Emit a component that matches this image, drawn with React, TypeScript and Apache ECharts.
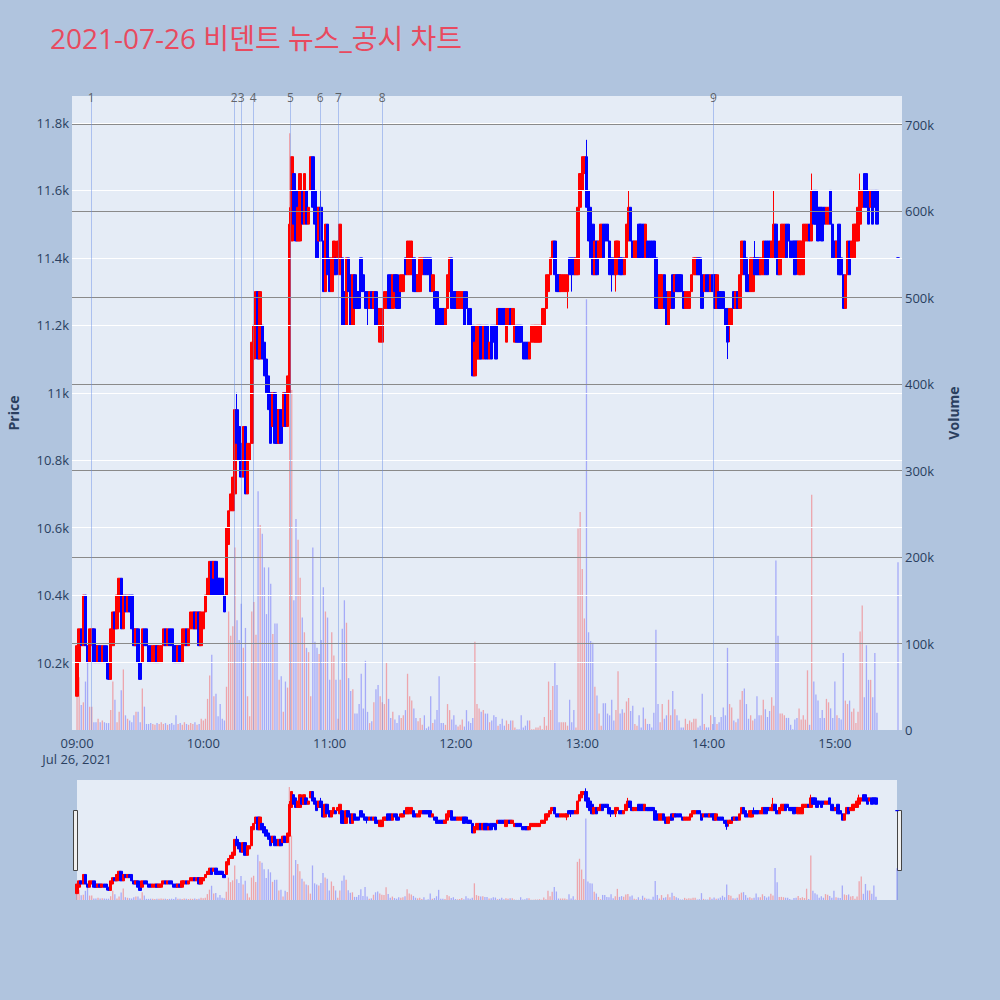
import React, { useEffect, useRef } from "react";
import * as echarts from "echarts";

const TITLE = "2021-07-26 비덴트 뉴스_공시 차트";
const DATE_LABEL = "Jul 26, 2021";

// one row per minute from 09:00: [open, close]
const candles: number[][] = [
  [10100, 10250], [10200, 10300], [10300, 10250], [10250, 10400], [10400, 10250], [10250, 10200], [10200, 10300], [10250, 10300], [10300, 10200], [10250, 10200],
  [10200, 10250], [10250, 10200], [10200, 10250], [10250, 10200], [10250, 10200], [10200, 10150], [10150, 10300], [10250, 10350], [10350, 10300], [10300, 10400],
  [10350, 10450], [10450, 10300], [10300, 10400], [10400, 10350], [10350, 10400], [10400, 10350], [10400, 10300], [10300, 10250], [10250, 10300], [10300, 10200],
  [10200, 10150], [10200, 10300], [10300, 10250], [10300, 10250], [10250, 10200], [10250, 10200], [10200, 10250], [10200, 10250], [10250, 10200], [10200, 10250],
  [10200, 10250], [10250, 10300], [10300, 10250], [10250, 10300], [10300, 10250], [10300, 10250], [10250, 10200], [10250, 10200], [10200, 10250], [10250, 10200],
  [10200, 10300], [10250, 10300], [10300, 10250], [10250, 10300], [10300, 10350], [10300, 10350], [10350, 10300], [10300, 10350], [10350, 10250], [10250, 10350],
  [10300, 10350], [10350, 10400], [10400, 10450], [10400, 10500], [10500, 10400], [10450, 10500], [10500, 10400], [10450, 10400], [10450, 10400], [10450, 10400],
  [10400, 10350], [10400, 10600], [10550, 10650], [10650, 10700], [10650, 10750], [10700, 10950], [10950, 10850], [10900, 10800], [10850, 10750], [10750, 10900],
  [10900, 10700], [10700, 10850], [10800, 10850], [10850, 11150], [11100, 11200], [11200, 11300], [11300, 11100], [11100, 11300], [11200, 11100], [11150, 11050],
  [11100, 11000], [11050, 10950], [11000, 10850], [10900, 11000], [11000, 10850], [10950, 10850], [10850, 10950], [10950, 10850], [10900, 11000], [11000, 10900],
  [10900, 11050], [11000, 11500], [11450, 11700], [11650, 11500], [11600, 11450], [11450, 11550], [11450, 11650], [11600, 11500], [11500, 11650], [11600, 11500],
  [11500, 11550], [11600, 11700], [11700, 11550], [11600, 11500], [11550, 11400], [11450, 11550], [11550, 11450], [11450, 11300], [11300, 11500], [11500, 11350],
  [11400, 11300], [11300, 11400], [11350, 11450], [11400, 11350], [11400, 11450], [11350, 11500], [11400, 11200], [11300, 11200], [11200, 11400], [11400, 11300],
  [11350, 11200], [11200, 11350], [11350, 11250], [11300, 11250], [11300, 11250], [11400, 11300], [11350, 11300], [11300, 11250], [11300, 11250], [11250, 11300],
  [11300, 11250], [11250, 11300], [11300, 11200], [11250, 11200], [11150, 11250], [11150, 11250], [11250, 11300], [11250, 11300], [11350, 11250], [11350, 11250],
  [11250, 11350], [11350, 11300], [11350, 11250], [11300, 11250], [11300, 11350], [11300, 11350], [11400, 11350], [11350, 11450], [11350, 11450], [11350, 11450],
  [11400, 11300], [11350, 11300], [11300, 11350], [11300, 11400], [11350, 11400], [11400, 11350], [11400, 11350], [11400, 11350], [11400, 11300], [11300, 11350],
  [11300, 11250], [11300, 11200], [11250, 11200], [11250, 11200], [11250, 11200], [11200, 11250], [11250, 11350], [11300, 11400], [11400, 11250], [11300, 11250],
  [11300, 11250], [11250, 11300], [11250, 11300], [11250, 11300], [11300, 11200], [11300, 11250], [11250, 11200], [11250, 11200], [11200, 11050], [11050, 11150],
  [11100, 11200], [11100, 11200], [11200, 11100], [11100, 11200], [11200, 11100], [11200, 11100], [11100, 11150], [11200, 11100], [11200, 11150], [11200, 11100],
  [11200, 11250], [11250, 11200], [11250, 11200], [11250, 11200], [11150, 11250], [11200, 11250], [11250, 11200], [11200, 11250], [11150, 11200], [11200, 11150],
  [11200, 11150], [11200, 11150], [11150, 11100], [11150, 11100], [11150, 11100], [11100, 11150], [11150, 11200], [11150, 11200], [11150, 11200], [11150, 11200],
  [11150, 11200], [11200, 11250], [11200, 11250], [11250, 11350], [11300, 11350], [11350, 11400], [11400, 11450], [11450, 11350], [11350, 11300], [11350, 11300],
  [11300, 11350], [11300, 11350], [11300, 11350], [11300, 11350], [11400, 11350], [11400, 11350], [11400, 11350], [11350, 11400], [11350, 11550], [11550, 11650],
  [11600, 11700], [11650, 11700], [11700, 11550], [11600, 11450], [11550, 11400], [11500, 11350], [11350, 11450], [11450, 11350], [11400, 11450], [11400, 11500],
  [11500, 11400], [11500, 11450], [11500, 11450], [11450, 11350], [11400, 11350], [11400, 11350], [11350, 11450], [11400, 11450], [11400, 11350], [11400, 11350],
  [11350, 11400], [11400, 11500], [11450, 11550], [11550, 11450], [11450, 11400], [11400, 11450], [11400, 11450], [11500, 11400], [11500, 11400], [11500, 11400],
  [11400, 11500], [11450, 11400], [11450, 11400], [11450, 11400], [11450, 11400], [11400, 11250], [11350, 11250], [11250, 11350], [11250, 11350], [11350, 11250],
  [11300, 11200], [11200, 11300], [11250, 11300], [11350, 11250], [11300, 11350], [11350, 11300], [11350, 11300], [11350, 11300], [11300, 11250], [11250, 11300],
  [11250, 11300], [11250, 11300], [11300, 11350], [11350, 11400], [11350, 11400], [11400, 11350], [11400, 11350], [11350, 11250], [11300, 11350], [11350, 11300],
  [11350, 11300], [11300, 11350], [11350, 11300], [11350, 11250], [11250, 11350], [11300, 11250], [11300, 11250], [11300, 11250], [11250, 11200], [11250, 11150],
  [11200, 11250], [11200, 11250], [11300, 11250], [11250, 11300], [11300, 11250], [11250, 11350], [11350, 11450], [11450, 11350], [11400, 11300], [11350, 11300],
  [11300, 11400], [11300, 11400], [11400, 11350], [11400, 11350], [11400, 11350], [11350, 11400], [11350, 11450], [11450, 11350], [11450, 11350], [11450, 11400],
  [11400, 11450], [11400, 11500], [11500, 11400], [11400, 11350], [11350, 11450], [11400, 11500], [11400, 11500], [11500, 11400], [11500, 11450], [11450, 11400],
  [11450, 11400], [11450, 11350], [11450, 11400], [11350, 11450], [11350, 11450], [11350, 11500], [11450, 11500], [11450, 11500], [11500, 11450], [11450, 11600],
  [11600, 11500], [11600, 11500], [11550, 11450], [11550, 11500], [11550, 11450], [11550, 11500], [11500, 11550], [11500, 11550], [11600, 11500], [11500, 11400],
  [11450, 11400], [11400, 11450], [11500, 11350], [11400, 11350], [11350, 11250], [11250, 11350], [11350, 11450], [11450, 11350], [11400, 11450], [11400, 11500],
  [11450, 11500], [11450, 11550], [11500, 11600], [11550, 11600], [11650, 11550], [11650, 11550], [11600, 11500], [11550, 11600], [11600, 11500], [11600, 11550],
  [11600, 11500],
];

// shadows that reach past the body: [minute, low, high]
const wicks: number[][] = [
  [14, 10150, 10250], [76, 10850, 11000], [101, 11000, 11550], [116, 11450, 11600], [138, 11200, 11300],
  [233, 11250, 11350], [235, 11300, 11400], [242, 11550, 11750], [254, 11300, 11400], [256, 11300, 11450],
  [262, 11450, 11600], [309, 11100, 11250], [310, 11150, 11250], [322, 11350, 11450], [331, 11400, 11600],
  [349, 11450, 11650], [372, 11500, 11650],
];

// closing auction print at 15:30
const closeAuction = { time: "15:30", open: 11400, close: 11400, volume: 194 };

// volume per minute, thousands of shares
const volumes: number[] = [
  77, 61, 29, 32, 56, 81, 27, 27, 9, 9,
  13, 9, 11, 9, 8, 8, 23, 56, 35, 9,
  21, 46, 70, 17, 13, 11, 9, 17, 21, 21,
  9, 48, 27, 7, 7, 8, 7, 6, 8, 7,
  9, 7, 8, 6, 7, 8, 6, 17, 7, 8,
  6, 9, 7, 6, 8, 7, 9, 6, 7, 13,
  11, 13, 36, 63, 87, 39, 42, 16, 30, 13,
  11, 50, 137, 109, 120, 211, 127, 104, 146, 95,
  118, 39, 16, 137, 148, 110, 276, 237, 227, 188,
  134, 188, 169, 111, 123, 123, 58, 62, 21, 56,
  49, 690, 393, 150, 244, 220, 176, 130, 113, 95,
  90, 39, 211, 102, 95, 88, 104, 165, 137, 130,
  58, 113, 86, 58, 13, 58, 117, 150, 124, 60,
  45, 47, 19, 19, 30, 65, 25, 80, 21, 8,
  10, 32, 47, 52, 39, 32, 30, 78, 36, 14,
  21, 12, 8, 17, 14, 17, 23, 65, 39, 34,
  25, 14, 10, 14, 6, 17, 2, 4, 39, 8,
  12, 23, 62, 8, 8, 6, 30, 23, 12, 17,
  6, 4, 6, 12, 4, 23, 10, 8, 14, 102,
  30, 25, 21, 23, 19, 19, 9, 11, 17, 15,
  5, 7, 13, 5, 11, 7, 11, 11, 3, 1,
  1, 17, 3, 5, 11, 11, 1, 1, 3, 3,
  5, 1, 15, 5, 56, 23, 51, 79, 52, 9,
  9, 9, 9, 5, 35, 9, 23, 3, 233, 252,
  186, 129, 498, 113, 103, 101, 50, 40, 19, 5,
  31, 31, 19, 17, 35, 11, 23, 68, 19, 24,
  20, 33, 37, 22, 28, 7, 5, 17, 3, 26,
  13, 7, 7, 3, 20, 116, 30, 9, 30, 13,
  17, 35, 17, 45, 24, 17, 11, 3, 3, 13,
  7, 11, 9, 13, 13, 3, 5, 42, 7, 3,
  3, 17, 7, 15, 7, 9, 15, 26, 17, 95,
  30, 26, 11, 9, 13, 35, 45, 48, 30, 13,
  17, 11, 13, 39, 17, 17, 35, 24, 15, 22,
  38, 28, 196, 109, 19, 19, 17, 14, 14, 6,
  1, 12, 14, 25, 12, 17, 12, 69, 6, 272,
  56, 41, 34, 14, 23, 14, 36, 32, 25, 14,
  56, 17, 14, 12, 89, 34, 30, 34, 21, 25,
  8, 21, 114, 144, 38, 98, 58, 58, 38, 89,
  20,
];

// news / disclosure times
const newsMarks: [string, string][] = [
  ["1", "09:06:40"], ["2", "10:14:40"], ["3", "10:18:00"], ["4", "10:23:40"], ["5", "10:41:20"],
  ["6", "10:55:30"], ["7", "11:04:10"], ["8", "11:25:00"], ["9", "14:02:20"],
];

const hourTicks = ["09:00", "10:00", "11:00", "12:00", "13:00", "14:00", "15:00"];
const priceTicks = [10200, 10400, 10600, 10800, 11000, 11200, 11400, 11600, 11800];
const volumeTicks = [0, 100000, 200000, 300000, 400000, 500000, 600000, 700000];

const FONT = '"Open Sans", "Noto Sans CJK KR", sans-serif';
const INK = "#2a3f5f";
const UP = "#ff0000";
const DOWN = "#0000ff";

const toMinute = (t: string) => {
  const [h, m, s = "0"] = t.split(":");
  return (Number(h) - 9) * 60 + Number(m) + Number(s) / 60;
};

const App: React.FC = () => {
  const chartRef = useRef<HTMLDivElement>(null);

  useEffect(() => {
    document.body.style.margin = "0";
    const chart = echarts.init(chartRef.current!, undefined, { renderer: "svg" });

    const wickMap = new Map(wicks.map(([m, lo, hi]) => [m, [lo, hi]]));
    const rows = candles.map(([o, c], i) => {
      const w = wickMap.get(i);
      const lo = Math.min(o, c, w ? w[0] : Infinity);
      const hi = Math.max(o, c, w ? w[1] : -Infinity);
      return [i, o, c, lo, hi];
    });
    const vols = volumes.map((v) => v * 1000);
    const auctionMin = toMinute(closeAuction.time);
    rows.push([auctionMin, closeAuction.open, closeAuction.close, closeAuction.open, closeAuction.close]);
    vols.push(closeAuction.volume * 1000);

    const volData = rows.map((r, i) => ({
      value: [r[0], vols[i]],
      itemStyle: { color: r[2] > r[1] ? "rgba(255,0,0,0.3)" : "rgba(0,0,255,0.28)" },
    }));

    const hourValues = hourTicks.map(toMinute);
    const fmtPrice = (v: number) => (v % 1000 === 0 ? `${v / 1000}k` : `${(v / 1000).toFixed(1)}k`);

    const candleStyle = {
      color: UP,
      color0: DOWN,
      borderColor: UP,
      borderColor0: DOWN,
      borderColorDoji: DOWN,
      borderWidth: 1,
    };

    chart.setOption({
      animation: false,
      backgroundColor: "#b0c4de",
      textStyle: { fontFamily: FONT },
      title: {
        text: TITLE,
        left: 45,
        top: 19,
        textStyle: { fontSize: 28, fontWeight: "normal", color: "#e84a5f", fontFamily: FONT },
      },
      grid: [
        {
          left: 72, top: 96, width: 830, height: 634,
          show: true, backgroundColor: "#e5ecf6", borderWidth: 0,
          containLabel: false, outerBoundsMode: "none",
        },
        {
          left: 77, top: 780, width: 820, height: 120,
          show: true, backgroundColor: "#e5ecf6", borderWidth: 0,
          containLabel: false, outerBoundsMode: "none",
        },
      ],
      xAxis: [
        {
          type: "value",
          gridIndex: 0,
          min: -2.4,
          max: 391.9,
          axisLine: { show: false },
          axisTick: { show: false },
          splitLine: { show: false },
          axisLabel: {
            customValues: hourValues,
            color: INK,
            fontSize: 13,
            margin: 5,
            lineHeight: 16,
            formatter: (v: number) => {
              const i = hourValues.findIndex((h) => Math.abs(h - v) < 0.01);
              const label = i >= 0 ? hourTicks[i] : "";
              return i === 0 ? `${label}\n${DATE_LABEL}` : label;
            },
          },
        },
        { type: "value", gridIndex: 1, min: 0, max: 390, show: false },
      ],
      yAxis: [
        {
          type: "value",
          gridIndex: 0,
          min: 10000,
          max: 11880,
          position: "left",
          name: "Price",
          nameLocation: "middle",
          nameGap: 52,
          nameRotate: 90,
          nameTextStyle: { color: INK, fontWeight: "bold", fontSize: 14 },
          axisLine: { show: false },
          axisTick: { show: false },
          splitLine: { show: false },
          axisLabel: { customValues: priceTicks, color: INK, fontSize: 13, margin: 3, formatter: fmtPrice },
        },
        {
          type: "value",
          gridIndex: 0,
          min: 0,
          max: 733000,
          position: "right",
          name: "Volume",
          nameLocation: "middle",
          nameGap: 44,
          nameRotate: 90,
          nameTextStyle: { color: INK, fontWeight: "bold", fontSize: 14 },
          axisLine: { show: false },
          axisTick: { show: false },
          splitLine: { show: false },
          axisLabel: {
            customValues: volumeTicks,
            color: INK,
            fontSize: 13,
            margin: 3,
            formatter: (v: number) => (v === 0 ? "0" : `${v / 1000}k`),
          },
        },
        { type: "value", gridIndex: 1, min: 10000, max: 11880, show: false },
        { type: "value", gridIndex: 1, min: 0, max: 733000, show: false },
      ],
      series: [
        {
          name: "priceGrid",
          type: "line",
          xAxisIndex: 0,
          yAxisIndex: 0,
          data: [[0, 11000]],
          showSymbol: false,
          lineStyle: { opacity: 0 },
          silent: true,
          z: 1,
          markLine: {
            silent: true,
            symbol: ["none", "none"],
            label: { show: false },
            lineStyle: { color: "#ffffff", width: 1, type: "solid" },
            data: priceTicks.map((v) => ({ yAxis: v })),
          },
        },
        {
          name: "volumeGrid",
          type: "line",
          xAxisIndex: 0,
          yAxisIndex: 1,
          data: [[0, 0]],
          showSymbol: false,
          lineStyle: { opacity: 0 },
          silent: true,
          z: 1,
          markLine: {
            silent: true,
            symbol: ["none", "none"],
            label: { show: false },
            lineStyle: { color: "#8a8a8a", width: 1, type: "solid" },
            data: volumeTicks.filter((v) => v > 0).map((v) => ({ yAxis: v })),
          },
        },
        {
          name: "Volume",
          type: "bar",
          xAxisIndex: 0,
          yAxisIndex: 1,
          barWidth: 1.3,
          data: volData,
          z: 2,
        },
        {
          name: "Price",
          type: "candlestick",
          xAxisIndex: 0,
          yAxisIndex: 0,
          barWidth: 3,
          encode: { x: 0, y: [1, 2, 3, 4] },
          data: rows,
          itemStyle: candleStyle,
          z: 3,
        },
        {
          name: "news",
          type: "line",
          xAxisIndex: 0,
          yAxisIndex: 0,
          data: [[0, 11000]],
          showSymbol: false,
          lineStyle: { opacity: 0 },
          silent: true,
          z: 4,
          markLine: {
            silent: true,
            symbol: ["none", "none"],
            label: { show: false },
            lineStyle: { color: "rgba(100,140,230,0.45)", width: 1, type: "solid" },
            data: newsMarks.map(([, t]) => ({ xAxis: toMinute(t) })),
          },
        },
        {
          name: "newsLabels",
          type: "scatter",
          xAxisIndex: 0,
          yAxisIndex: 0,
          symbolSize: 2,
          clip: false,
          silent: true,
          itemStyle: { color: "rgba(0,0,0,0)" },
          z: 5,
          label: { show: true, position: "inside", formatter: "{b}", color: "#444", fontSize: 12, offset: [0, 1] },
          data: newsMarks.map(([n, t]) => ({ name: n, value: [toMinute(t), 11880] })),
        },
        {
          name: "miniVolume",
          type: "bar",
          xAxisIndex: 1,
          yAxisIndex: 3,
          barWidth: 1.3,
          data: volData,
          silent: true,
        },
        {
          name: "miniPrice",
          type: "candlestick",
          xAxisIndex: 1,
          yAxisIndex: 2,
          barWidth: 3,
          encode: { x: 0, y: [1, 2, 3, 4] },
          data: rows,
          itemStyle: candleStyle,
          silent: true,
        },
      ],
      graphic: [
        { type: "rect", left: 73, top: 810, shape: { width: 4, height: 60 }, style: { fill: "#f0f0f0", stroke: "#444", lineWidth: 1 } },
        { type: "rect", left: 897, top: 810, shape: { width: 4, height: 60 }, style: { fill: "#f0f0f0", stroke: "#444", lineWidth: 1 } },
      ],
    });

    return () => {
      chart.dispose();
    };
  }, []);

  return (
    <div
      ref={chartRef}
      style={{ position: "fixed", left: 0, top: 0, width: "1000px", height: "1000px" }}
    />
  );
};

export default App;
